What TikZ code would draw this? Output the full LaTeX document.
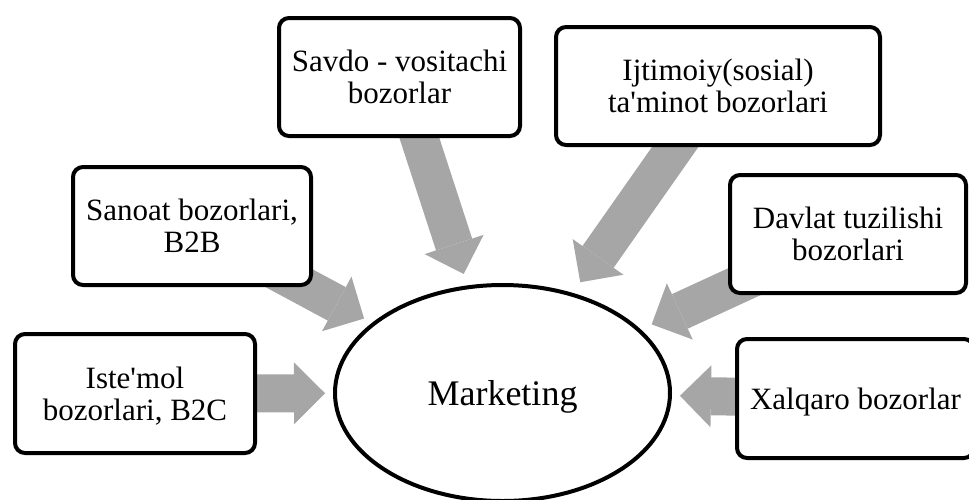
\documentclass[tikz,border=0pt]{standalone}
\usepackage{fontspec}
\setmainfont{Liberation Serif}
\usetikzlibrary{shapes.geometric,arrows.meta,backgrounds}
\definecolor{arrowgray}{RGB}{166,166,166}
\begin{document}
\begin{tikzpicture}[x=1pt,y=-1pt,
  box/.style={draw=black, line width=4pt, rounded corners=10pt, fill=white,
    inner sep=0pt, align=center, text depth=0pt, font=\fontsize{31}{32}\selectfont},
  bigarrow/.style={draw=arrowgray, line width=38pt,
    -{Triangle[width=62pt,length=31pt,line width=0pt]}}
]
\useasboundingbox (0,0) rectangle (969,499);
\clip (0,0) rectangle (969,499);

\node[box, minimum width=240pt, minimum height=119pt] (iste) at (135,393.5)
  {Iste\textquotesingle mol\\bozorlari, B2C};
\node[box, minimum width=238pt, minimum height=118pt] (sanoat) at (192,226)
  {Sanoat bozorlari,\\B2B};
\node[box, minimum width=241pt, minimum height=118pt] (savdo) at (399.5,77)
  {Savdo - vositachi\\bozorlar};
\node[box, minimum width=324pt, minimum height=118pt] (ijtimoiy) at (718,86)
  {Ijtimoiy(sosial)\\ta\textquotesingle minot bozorlari};
\node[box, minimum width=236pt, minimum height=118pt] (davlat) at (848,234)
  {Davlat tuzilishi\\bozorlari};
\node[box, minimum width=237pt, minimum height=119pt] (xalqaro) at (855.5,398.5)
  {Xalqaro bozorlar};

\node[ellipse, draw=black, line width=4pt, fill=white, minimum width=335pt,
  minimum height=216pt, inner sep=0pt, font=\fontsize{36}{40}\selectfont,
  text height=24pt, text depth=0pt] (mk) at (502.5,393) {Marketing};

\begin{scope}[on background layer]
  \draw[bigarrow, shorten >=8pt] (iste.center) -- (mk);
  \draw[bigarrow, shorten >=9pt] (sanoat.center) -- (mk);
  \draw[bigarrow, shorten >=12pt] (savdo.center) -- (mk);
  \draw[bigarrow, shorten >=13pt] (ijtimoiy.center) -- (mk);
  \draw[bigarrow, shorten >=12pt] (davlat.center) -- (mk);
  \draw[bigarrow, shorten >=8pt] (xalqaro.center) -- (mk);
\end{scope}
\end{tikzpicture}
\end{document}
